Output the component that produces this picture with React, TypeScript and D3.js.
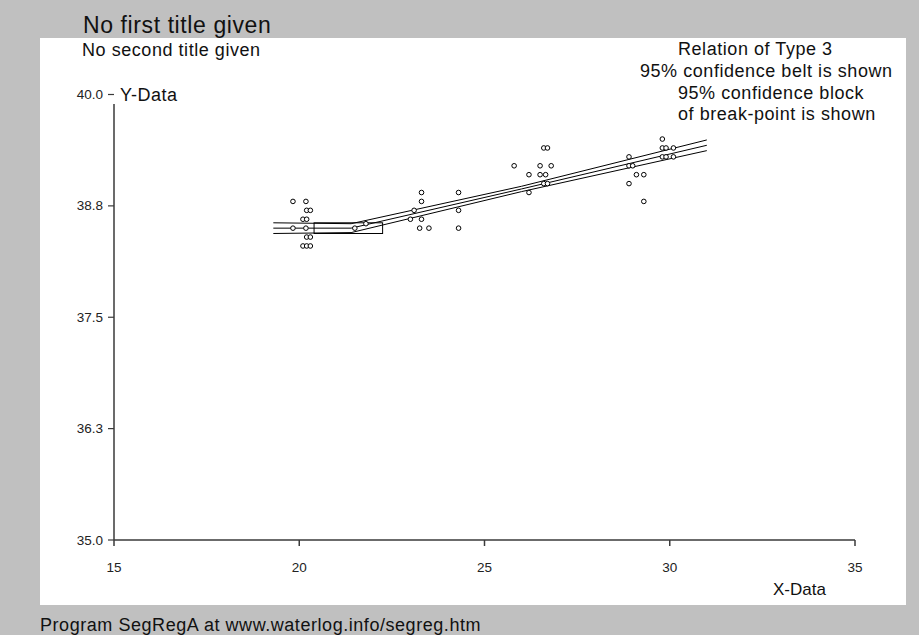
import * as d3 from "d3";
import { useEffect, useRef } from "react";

const xData = [
  19.83, 20.18, 20.2, 20.3, 20.1, 20.2, 19.83, 20.18, 20.2, 20.3, 20.1, 20.2, 20.3,
  21.5, 21.8,
  23.3, 23.3, 23.1, 23.0, 23.3, 23.25, 23.5, 24.3, 24.3, 24.3,
  25.8, 26.2, 26.2, 26.5, 26.5, 26.6, 26.7, 26.65, 26.8, 26.6, 26.7,
  28.9, 28.9, 29.0, 29.1, 29.3, 28.9, 29.3,
  29.8, 29.8, 29.9, 30.1, 29.8, 29.9, 30.1,
];
const yData = [
  38.8, 38.8, 38.7, 38.7, 38.6, 38.6, 38.5, 38.5, 38.4, 38.4, 38.3, 38.3, 38.3,
  38.5, 38.55,
  38.9, 38.8, 38.7, 38.6, 38.6, 38.5, 38.5, 38.9, 38.7, 38.5,
  39.2, 39.1, 38.9, 39.2, 39.1, 39.0, 39.0, 39.1, 39.2, 39.4, 39.4,
  39.3, 39.2, 39.2, 39.1, 39.1, 39.0, 38.8,
  39.5, 39.4, 39.4, 39.4, 39.3, 39.3, 39.3,
];

// segmented regression line + 95% belt
const fitX = [19.3, 21.4, 26.0, 31.0];
const fitMid = [38.5, 38.5, 38.94, 39.43];
const fitUpper = [38.56, 38.55, 38.97, 39.49];
const fitLower = [38.44, 38.45, 38.91, 39.37];

// 95% confidence block of the break-point
const blockX = [20.4, 22.25];
const blockY = [38.44, 38.56];

const xTicks = [15, 20, 25, 30, 35];
const yTicks = [35.0, 36.25, 37.5, 38.75, 40.0];
const yTickLabels = ["35.0", "36.3", "37.5", "38.8", "40.0"];

const noteLines = [
  { text: "Relation of Type 3", x: 678, y: 55 },
  { text: "95% confidence belt is shown", x: 640, y: 77 },
  { text: "95% confidence block", x: 678, y: 99 },
  { text: "of break-point is shown", x: 678, y: 120 },
];

function App() {
  const svgRef = useRef<SVGSVGElement | null>(null);

  useEffect(() => {
    const svg = d3.select(svgRef.current);
    svg.selectAll("*").remove();
    const font = "'Liberation Sans', Arial, sans-serif";

    // frame
    svg.append("rect").attr("width", 919).attr("height", 635).attr("fill", "#c0c0c0");
    svg.append("rect")
      .attr("x", 40).attr("y", 38).attr("width", 866).attr("height", 567)
      .attr("fill", "#ffffff");

    const xScale = d3.scaleLinear().domain([15, 35]).range([114, 855]);
    const yScale = d3.scaleLinear().domain([35, 40]).range([540, 94.5]);

    const axisColor = "#3a3a3a";

    // axes
    svg.append("line")
      .attr("x1", xScale(15)).attr("x2", xScale(35))
      .attr("y1", 540).attr("y2", 540)
      .attr("stroke", axisColor).attr("stroke-width", 1.5);
    svg.append("line")
      .attr("x1", 114).attr("x2", 114)
      .attr("y1", 104).attr("y2", 540)
      .attr("stroke", axisColor).attr("stroke-width", 1.5);

    svg.selectAll(".xtick")
      .data(xTicks)
      .join("line")
      .attr("class", "xtick")
      .attr("x1", (d) => xScale(d)).attr("x2", (d) => xScale(d))
      .attr("y1", 540).attr("y2", 546)
      .attr("stroke", axisColor).attr("stroke-width", 1.5);

    svg.selectAll(".xlabel")
      .data(xTicks)
      .join("text")
      .attr("class", "xlabel")
      .attr("x", (d) => xScale(d))
      .attr("y", 572)
      .attr("text-anchor", "middle")
      .attr("font-family", font)
      .attr("font-size", 13.5)
      .attr("fill", "#222")
      .text((d) => String(d));

    svg.selectAll(".ytick")
      .data(yTicks)
      .join("line")
      .attr("class", "ytick")
      .attr("x1", 108).attr("x2", 114)
      .attr("y1", (d) => yScale(d)).attr("y2", (d) => yScale(d))
      .attr("stroke", axisColor).attr("stroke-width", 1.2);

    svg.selectAll(".ylabel")
      .data(yTicks)
      .join("text")
      .attr("class", "ylabel")
      .attr("x", 103)
      .attr("y", (d) => yScale(d) + 4.5)
      .attr("text-anchor", "end")
      .attr("font-family", font)
      .attr("font-size", 13.5)
      .attr("fill", "#222")
      .text((d, i) => yTickLabels[i]);

    // regression lines
    const line = d3.line<number>()
      .x((v, i) => xScale(fitX[i]))
      .y((v) => yScale(v));

    svg.selectAll(".fit")
      .data([fitUpper, fitMid, fitLower])
      .join("path")
      .attr("class", "fit")
      .attr("d", (v) => line(v))
      .attr("fill", "none")
      .attr("stroke", "#000")
      .attr("stroke-width", 1);

    svg.append("rect")
      .attr("x", xScale(blockX[0]))
      .attr("y", yScale(blockY[1]))
      .attr("width", xScale(blockX[1]) - xScale(blockX[0]))
      .attr("height", yScale(blockY[0]) - yScale(blockY[1]))
      .attr("fill", "none")
      .attr("stroke", "#000")
      .attr("stroke-width", 1);

    // data points
    svg.selectAll(".pt")
      .data(xData)
      .join("circle")
      .attr("class", "pt")
      .attr("cx", (d) => xScale(d))
      .attr("cy", (d, i) => yScale(yData[i]))
      .attr("r", 2.3)
      .attr("fill", "#fff")
      .attr("stroke", "#000")
      .attr("stroke-width", 1);

    // texts
    const big = { size: 18, spacing: 0.55 };
    svg.append("text")
      .attr("x", 83).attr("y", 33)
      .attr("font-family", font).attr("font-size", 23)
      .attr("letter-spacing", 0.6)
      .attr("fill", "#111")
      .text("No first title given");
    svg.append("text")
      .attr("x", 82).attr("y", 56)
      .attr("font-family", font).attr("font-size", big.size)
      .attr("letter-spacing", big.spacing)
      .attr("fill", "#111")
      .text("No second title given");
    svg.selectAll(".note")
      .data(noteLines)
      .join("text")
      .attr("class", "note")
      .attr("x", (d) => d.x).attr("y", (d) => d.y)
      .attr("font-family", font).attr("font-size", big.size)
      .attr("letter-spacing", big.spacing)
      .attr("fill", "#111")
      .text((d) => d.text);
    svg.append("text")
      .attr("x", 120).attr("y", 101)
      .attr("font-family", font).attr("font-size", big.size)
      .attr("letter-spacing", big.spacing)
      .attr("fill", "#111")
      .text("Y-Data");
    svg.append("text")
      .attr("x", 773).attr("y", 595)
      .attr("font-family", font).attr("font-size", 17)
      .attr("fill", "#111")
      .text("X-Data");
    svg.append("text")
      .attr("x", 40).attr("y", 631)
      .attr("font-family", font).attr("font-size", big.size)
      .attr("letter-spacing", big.spacing)
      .attr("fill", "#111")
      .text("Program SegRegA at www.waterlog.info/segreg.htm");
  }, []);

  return (
    <svg
      ref={svgRef}
      width={919}
      height={635}
      style={{ position: "fixed", left: 0, top: 0, display: "block" }}
    />
  );
}

export default App;
